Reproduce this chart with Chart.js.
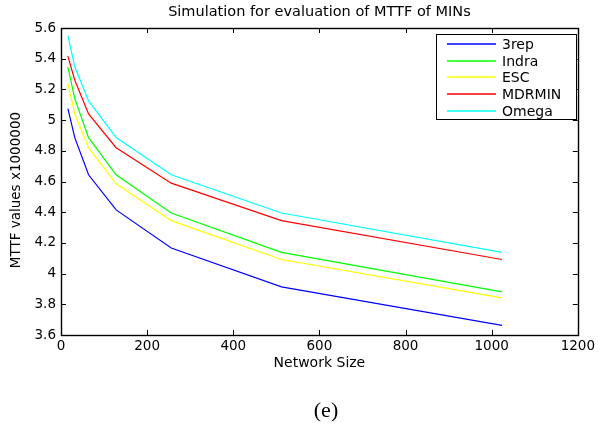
<!DOCTYPE html>
<html>
<head>
<meta charset="utf-8">
<script src="https://cdn.jsdelivr.net/npm/chart.js@4"></script>
<style>
  html, body { margin: 0; padding: 0; background: #fff; }
  #wrap { width: 598px; height: 427px; position: relative; }
</style>
</head>
<body>
<div id="wrap"><canvas id="c" width="598" height="427"></canvas></div>
<script>
// network sizes on the x axis
const sizes = [16, 32, 64, 128, 256, 512, 1024];

// MTTF values (x1000000)
const rep3   = [5.075, 4.886, 4.644, 4.415, 4.167, 3.914, 3.663];
const indra  = [5.347, 5.14, 4.886, 4.644, 4.395, 4.138, 3.881];
const esc    = [5.238, 5.04, 4.82, 4.585, 4.345, 4.092, 3.842];
const mdrmin = [5.417, 5.26, 5.04, 4.82, 4.589, 4.345, 4.092];
const omega  = [5.55, 5.347, 5.125, 4.886, 4.644, 4.395, 4.138];

const seriesNames = ["3rep", "Indra", "ESC", "MDRMIN", "Omega"];
const seriesData = [rep3, indra, esc, mdrmin, omega];
const seriesColors = ["#0000ff", "#00ff00", "#ffff00", "#ff0000", "#00ffff"];

const FONT = "'DejaVu Sans', Verdana, sans-serif";

// MATLAB-style box with inward ticks, legend inside, caption below
const matlabBox = {
  id: "matlabBox",
  afterDraw(chart) {
    const { ctx, chartArea: a, scales } = chart;
    ctx.save();
    ctx.strokeStyle = "#000";
    ctx.lineWidth = 1.4;
    ctx.strokeRect(Math.round(a.left) + 0.5, Math.round(a.top) + 0.5,
      Math.round(a.right - a.left), Math.round(a.bottom - a.top));
    ctx.lineWidth = 1;
    const tl = 5;
    ctx.beginPath();
    scales.x.ticks.forEach((t) => {
      const px = Math.round(scales.x.getPixelForValue(t.value)) + 0.5;
      ctx.moveTo(px, a.bottom); ctx.lineTo(px, a.bottom - tl);
      ctx.moveTo(px, a.top); ctx.lineTo(px, a.top + tl);
    });
    scales.y.ticks.forEach((t) => {
      const py = Math.round(scales.y.getPixelForValue(t.value)) + 0.5;
      ctx.moveTo(a.left, py); ctx.lineTo(a.left + tl, py);
      ctx.moveTo(a.right, py); ctx.lineTo(a.right - tl, py);
    });
    ctx.stroke();

    // legend
    const bx = 436.5, by = 34.5, bw = 140, bh = 85;
    ctx.fillStyle = "#fff";
    ctx.fillRect(bx, by, bw, bh);
    ctx.strokeStyle = "#000";
    ctx.strokeRect(bx, by, bw, bh);
    ctx.font = "14px " + FONT;
    ctx.textBaseline = "middle";
    chart.data.datasets.forEach((ds, i) => {
      const y = Math.round(44 + i * 16.7);
      ctx.strokeStyle = seriesColors[i];
      ctx.lineWidth = 1.3;
      ctx.beginPath();
      ctx.moveTo(447, y); ctx.lineTo(496, y);
      ctx.stroke();
      ctx.fillStyle = "#000";
      ctx.fillText(ds.label, 502, y + 1);
    });

    // sub-figure caption
    ctx.font = "22px 'Liberation Serif', 'DejaVu Serif', serif";
    ctx.textAlign = "center";
    ctx.fillStyle = "#000";
    ctx.fillText("(e)", 326, 411);
    ctx.restore();
  }
};

const tickFont = { family: FONT, size: 13.5 };

new Chart(document.getElementById("c"), {
  type: "line",
  data: {
    datasets: seriesNames.map((name, i) => ({
      label: name,
      data: sizes.map((s, j) => ({ x: s, y: seriesData[i][j] })),
      borderColor: seriesColors[i],
      borderWidth: 1.2,
      pointRadius: 0,
      tension: 0,
      fill: false,
    })),
  },
  options: {
    responsive: false,
    animation: false,
    layout: { padding: { left: 0, right: 17, top: 0, bottom: 0 } },
    plugins: {
      legend: { display: false },
      tooltip: { enabled: false },
    },
    scales: {
      x: {
        type: "linear",
        min: 0, max: 1200,
        ticks: {
          stepSize: 200, color: "#000", font: tickFont, padding: 3, maxRotation: 0,
          callback: (v) => String(v),
        },
        grid: { display: false, drawTicks: false },
        border: { display: false },
        title: { display: true, text: "Network Size", color: "#000", font: { family: FONT, size: 14 }, padding: { top: 0, bottom: 55.6 } },
        afterFit: (s) => { s.height = 92; },
      },
      // top axis only carries the chart title, centred over the plot box
      top: {
        type: "linear",
        position: "top",
        min: 0, max: 1200,
        ticks: { display: false },
        grid: { display: false, drawTicks: false },
        border: { display: false },
        title: {
          display: true,
          text: "Simulation for evaluation of MTTF of MINs",
          color: "#000",
          font: { family: FONT, size: 14.5 },
          padding: { top: 3.3, bottom: 0 },
        },
        afterFit: (s) => { s.height = 28; },
      },
      y: {
        min: 3.6, max: 5.6,
        ticks: {
          stepSize: 0.2, color: "#000", font: tickFont, padding: 5,
          callback: (v) => String(Math.round(v * 10) / 10),
        },
        grid: { display: false, drawTicks: false },
        border: { display: false },
        title: { display: true, text: "MTTF values x1000000    ", color: "#000", font: tickFont, padding: { top: 8, bottom: 0 } },
        afterFit: (s) => { s.width = 61; },
      },
    },
  },
  plugins: [matlabBox],
});
</script>
</body>
</html>
